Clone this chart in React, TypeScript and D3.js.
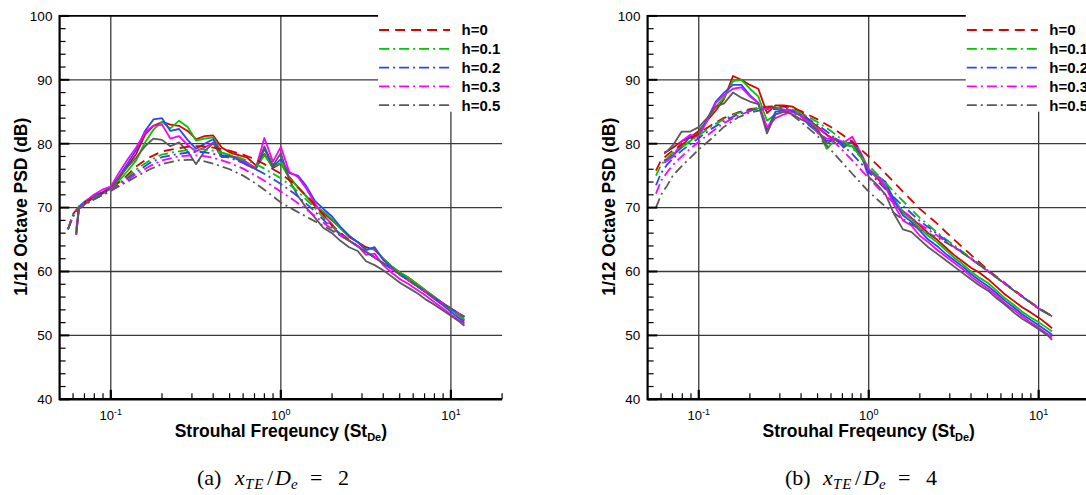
import React from 'react';
import * as d3 from 'd3';

const W = 1086;
const H = 495;

// ---------------- DATA ----------------
const seriesLabels = ['h=0', 'h=0.1', 'h=0.2', 'h=0.3', 'h=0.5'];
const seriesColors = ['#dc0000', '#00c800', '#2846ff', '#ff00ff', '#5a5a5a'];

// Strouhal numbers of the simulated (solid) spectra
const stSolid = [0.0626, 0.065, 0.0707, 0.0794, 0.0891, 0.1, 0.112, 0.126, 0.141, 0.159, 0.178, 0.2,
  0.224, 0.252, 0.283, 0.317, 0.356, 0.4, 0.449, 0.504, 0.566, 0.635, 0.713, 0.8, 0.898, 1.0, 1.12,
  1.26, 1.41, 1.59, 1.78, 2.0, 2.24, 2.52, 2.83, 3.17, 3.56, 4.0, 4.49, 5.04, 5.66, 6.35, 7.13, 8.0,
  8.98, 10.1, 11.3, 12.0];

// Strouhal numbers of the model (dashed) spectra
const stModel = [0.056, 0.06, 0.065, 0.07, 0.08, 0.09, 0.1, 0.12, 0.14, 0.17, 0.2, 0.25, 0.3, 0.35,
  0.4, 0.5, 0.6, 0.7, 0.8, 1.0, 1.2, 1.5, 2.0, 2.5, 3.0, 4.0, 5.0, 7.0, 10, 12];

// (a) x_TE/D_e = 2  -- solid
const aSolidH0 = [66.6, 70.0, 70.6, 71.6, 72.3, 73.2, 74.6, 76.6, 78.4, 81.4, 82.8, 83.4, 83.0, 82.8,
  82.0, 80.7, 81.2, 81.3, 79.4, 78.6, 78.2, 77.8, 76.6, 78.4, 76.2, 76.9, 74.8, 73.2, 71.8, 70.2, 69.2,
  68.0, 66.8, 65.4, 64.6, 63.8, 63.4, 62.0, 60.8, 59.8, 59.0, 58.0, 57.0, 56.0, 55.0, 54.0, 53.0, 52.3];
const aSolidH01 = [66.0, 70.0, 70.8, 71.7, 72.3, 73.0, 74.2, 75.8, 77.4, 80.2, 82.2, 83.4, 82.4, 83.6,
  82.6, 80.5, 80.8, 81.0, 78.6, 78.2, 77.6, 77.0, 76.2, 78.2, 76.4, 77.0, 74.6, 73.2, 71.8, 70.3, 69.4,
  68.2, 66.8, 65.6, 64.6, 63.4, 63.6, 62.0, 60.8, 59.8, 59.0, 58.0, 57.0, 56.0, 55.0, 54.0, 53.0, 52.5];
const aSolidH02 = [65.8, 70.2, 71.0, 71.9, 72.4, 73.2, 74.9, 77.0, 79.0, 82.0, 83.8, 84.0, 82.0, 82.3,
  80.6, 79.2, 80.0, 80.7, 78.2, 78.0, 77.8, 77.0, 76.0, 79.2, 76.4, 77.6, 75.4, 75.0, 73.4, 71.0, 69.8,
  68.6, 67.0, 65.6, 64.6, 63.4, 63.8, 61.8, 60.6, 59.4, 58.6, 57.7, 56.7, 55.7, 54.7, 53.6, 52.6, 52.0];
const aSolidH03 = [65.7, 70.0, 70.9, 72.0, 72.8, 73.3, 75.5, 77.6, 79.4, 81.8, 82.8, 83.0, 80.8, 81.2,
  79.8, 78.8, 79.4, 80.2, 77.9, 78.0, 77.6, 76.9, 76.2, 80.9, 77.2, 79.5, 75.6, 74.8, 73.0, 70.6, 68.8,
  67.4, 65.6, 64.8, 64.0, 62.6, 62.8, 61.0, 59.8, 58.8, 58.0, 57.1, 56.2, 55.2, 54.2, 53.2, 52.3, 51.7];
const aSolidH05 = [65.8, 69.8, 70.6, 71.6, 72.2, 73.0, 74.8, 76.4, 77.8, 79.6, 80.8, 80.6, 79.6, 80.2,
  78.8, 76.8, 78.8, 80.1, 77.9, 78.1, 77.4, 76.6, 76.0, 79.6, 76.6, 78.5, 74.4, 71.8, 70.0, 68.4, 66.8,
  66.0, 64.8, 63.8, 63.2, 61.6, 61.0, 60.2, 59.2, 58.2, 57.4, 56.6, 55.6, 54.8, 53.9, 53.0, 52.1, 51.5];

// (a) x_TE/D_e = 2  -- model
const aModelH0 = [66.6, 69.0, 70.2, 70.8, 71.6, 72.3, 73.0, 74.6, 76.4, 77.9, 78.8, 79.3, 79.6, 79.6,
  79.4, 78.9, 78.3, 77.6, 76.8, 75.3, 73.7, 71.2, 67.2, 65.0, 63.5, 61.3, 59.6, 56.9, 54.2, 52.9];
const aModelH01 = [66.6, 68.9, 70.1, 70.7, 71.5, 72.2, 72.9, 74.4, 75.9, 77.4, 78.3, 78.8, 79.1, 79.1,
  78.9, 78.3, 77.6, 76.9, 76.1, 74.6, 73.0, 70.6, 67.0, 64.9, 63.5, 61.3, 59.6, 56.9, 54.2, 52.9];
const aModelH02 = [66.6, 68.8, 70.0, 70.6, 71.4, 72.1, 72.8, 74.2, 75.5, 77.0, 77.9, 78.4, 78.7, 78.7,
  78.4, 77.8, 77.0, 76.1, 75.3, 73.7, 72.2, 70.0, 66.8, 64.9, 63.5, 61.3, 59.6, 56.9, 54.2, 52.9];
const aModelH03 = [66.6, 68.7, 69.9, 70.5, 71.3, 72.0, 72.7, 74.0, 75.2, 76.5, 77.4, 78.0, 78.2, 78.1,
  77.8, 77.0, 76.1, 75.1, 74.2, 72.5, 71.1, 69.2, 66.6, 64.9, 63.5, 61.3, 59.6, 56.9, 54.2, 52.9];
const aModelH05 = [66.6, 68.6, 69.8, 70.4, 71.3, 72.0, 72.6, 73.8, 74.8, 76.0, 76.8, 77.4, 77.5, 77.3,
  76.9, 76.0, 75.0, 73.9, 72.8, 70.8, 69.6, 68.2, 66.4, 64.9, 63.5, 61.3, 59.6, 56.9, 54.2, 52.9];

// (b) x_TE/D_e = 4  -- solid
const bSolidH0 = [78.6, 78.8, 79.4, 80.4, 81.0, 82.0, 83.6, 85.2, 87.0, 90.6, 90.0, 89.2, 88.6, 84.8,
  86.0, 86.0, 85.8, 85.0, 83.6, 82.6, 81.4, 80.6, 80.0, 79.6, 78.0, 76.0, 74.6, 73.2, 71.0, 69.4, 68.4,
  67.2, 66.0, 65.0, 63.8, 62.6, 61.6, 60.6, 59.8, 58.8, 57.6, 56.4, 55.4, 54.4, 53.6, 52.7, 51.7, 51.1];
const bSolidH01 = [77.2, 77.6, 78.2, 79.4, 80.4, 81.6, 83.8, 85.8, 87.2, 89.8, 90.0, 88.6, 87.4, 83.6,
  84.6, 85.0, 85.2, 84.6, 83.6, 82.2, 79.2, 80.6, 79.8, 79.6, 78.0, 75.8, 74.8, 73.6, 71.4, 69.2, 68.2,
  66.8, 65.6, 64.6, 63.4, 62.2, 61.2, 60.0, 59.0, 58.2, 57.0, 55.8, 54.8, 53.7, 52.8, 52.0, 51.1, 50.6];
const bSolidH02 = [77.4, 77.6, 78.2, 79.6, 81.1, 81.3, 83.8, 86.6, 88.0, 89.2, 89.2, 87.6, 86.4, 82.2,
  85.0, 85.2, 85.0, 84.4, 82.8, 81.8, 80.4, 80.8, 80.0, 80.2, 78.2, 75.8, 75.0, 74.0, 71.0, 68.8, 67.8,
  66.4, 65.0, 64.0, 62.8, 61.8, 60.8, 59.6, 58.6, 57.7, 56.6, 55.4, 54.4, 53.3, 52.4, 51.5, 50.6, 50.1];
const bSolidH03 = [77.0, 77.3, 78.0, 80.4, 81.4, 81.0, 83.6, 86.4, 87.6, 88.6, 88.8, 87.4, 86.4, 82.6,
  84.0, 84.6, 85.0, 84.4, 83.4, 81.6, 80.8, 80.8, 80.2, 81.1, 78.6, 76.0, 75.0, 73.2, 70.4, 68.0, 67.2,
  65.6, 64.6, 63.4, 62.4, 61.4, 60.4, 59.2, 58.2, 57.3, 56.2, 55.0, 54.0, 53.0, 52.0, 51.1, 50.2, 49.7];
const bSolidH05 = [78.4, 78.8, 79.8, 81.9, 81.9, 82.6, 84.0, 85.8, 86.3, 88.0, 87.2, 86.6, 86.2, 81.6,
  84.6, 85.0, 84.6, 83.8, 83.2, 82.0, 80.0, 80.8, 79.4, 80.4, 78.4, 74.8, 73.6, 72.0, 69.0, 66.6, 66.2,
  65.0, 63.8, 62.8, 61.8, 60.8, 59.8, 58.8, 57.8, 57.0, 55.8, 54.8, 53.6, 52.6, 51.8, 50.9, 50.0, 49.3];

// (b) x_TE/D_e = 4  -- model
const bModelH0 = [75.8, 77.4, 78.2, 78.9, 79.9, 80.8, 81.6, 83.0, 84.0, 84.9, 85.4, 85.8, 85.9, 85.6,
  85.1, 83.8, 82.6, 81.4, 80.3, 78.0, 75.9, 73.2, 69.8, 67.6, 65.6, 62.6, 60.3, 57.3, 54.3, 53.0];
const bModelH01 = [75.0, 76.7, 77.7, 78.5, 79.6, 80.5, 81.3, 82.8, 83.8, 84.8, 85.3, 85.7, 85.7, 85.4,
  84.8, 83.4, 82.0, 80.6, 79.3, 76.6, 74.4, 71.7, 68.4, 66.2, 64.6, 62.1, 60.2, 57.2, 54.2, 53.0];
const bModelH02 = [73.5, 75.4, 76.7, 77.6, 79.0, 80.0, 80.9, 82.4, 83.5, 84.6, 85.2, 85.6, 85.6, 85.2,
  84.5, 83.0, 81.4, 79.8, 78.4, 75.6, 73.4, 70.9, 67.9, 66.0, 64.4, 62.0, 60.1, 57.2, 54.2, 53.0];
const bModelH03 = [72.2, 74.2, 75.5, 76.6, 78.1, 79.3, 80.3, 81.9, 83.2, 84.4, 85.1, 85.5, 85.5, 85.0,
  84.2, 82.5, 80.8, 79.0, 77.4, 74.6, 72.4, 70.0, 67.4, 65.7, 64.3, 62.0, 60.1, 57.2, 54.2, 53.0];
const bModelH05 = [70.0, 72.0, 73.4, 74.9, 76.6, 77.9, 79.1, 80.9, 82.6, 84.1, 84.9, 85.4, 85.4, 84.6,
  83.4, 81.2, 79.0, 77.0, 75.3, 72.5, 70.6, 68.6, 66.6, 65.4, 64.2, 62.0, 60.1, 57.2, 54.2, 53.0];

const yTickValues = [40, 50, 60, 70, 80, 90, 100];
const xMajorTicks = [0.1, 1, 10];
const xTickExponents = ['-1', '0', '1'];

// ---------------- LAYOUT ----------------
const FONT = "'Liberation Sans', Arial, Helvetica, sans-serif";
const SERIF = "'Liberation Serif', 'DejaVu Serif', 'Times New Roman', serif";
const PLOT_TOP = 15.9;
const PLOT_BOTTOM = 399.3;
const modelDash = ['10,6', '10,4,2,4', '10,4,2,4', '10,4,2,4', '10,4,2,4'];

const panels = [
  {
    key: 'a', left: 59.6, right: 502.1, label: 'a', value: '2', capX: 278,
    solids: [aSolidH0, aSolidH01, aSolidH02, aSolidH03, aSolidH05],
    models: [aModelH0, aModelH01, aModelH02, aModelH03, aModelH05],
  },
  {
    key: 'b', left: 647.6, right: 1089.8, label: 'b', value: '4', capX: 866,
    solids: [bSolidH0, bSolidH01, bSolidH02, bSolidH03, bSolidH05],
    models: [bModelH0, bModelH01, bModelH02, bModelH03, bModelH05],
  },
];

function minorTicks(): number[] {
  const out: number[] = [];
  [0.01, 0.1, 1, 10].forEach((dec) => {
    for (let k = 2; k <= 9; k++) {
      const v = dec * k;
      if (v >= 0.05 && v <= 20.0001) out.push(v);
    }
  });
  return out;
}

function Caption({ cx, label, value }: { cx: number; label: string; value: string }) {
  const base = 485;
  const fs = 22;
  const sub = 15;
  return (
    <g fontFamily={SERIF} fill="#000">
      <text x={cx - 81} y={base} fontSize={fs}>({label})</text>
      <text x={cx - 43} y={base} fontSize={fs} fontStyle="italic">x</text>
      <text x={cx - 33} y={base + 4} fontSize={sub} fontStyle="italic" letterSpacing={1}>TE</text>
      <text x={cx - 11} y={base} fontSize={fs}>/</text>
      <text x={cx - 3} y={base} fontSize={fs} fontStyle="italic">D</text>
      <text x={cx + 13} y={base + 4} fontSize={sub} fontStyle="italic">e</text>
      <text x={cx + 32} y={base} fontSize={fs}>=</text>
      <text x={cx + 60} y={base} fontSize={fs}>{value}</text>
    </g>
  );
}

function Panel({ p }: { p: typeof panels[number] }) {
  const x = d3.scaleLog().domain([0.05, 20]).range([p.left, p.right]);
  const y = d3.scaleLinear().domain([40, 100]).range([PLOT_BOTTOM, PLOT_TOP]);
  const line = d3.line<[number, number]>().x((d) => x(d[0])).y((d) => y(d[1]));
  const yMinor = y.ticks(30).filter((v) => v % 10 !== 0);
  const xMinor = minorTicks();
  const legX0 = p.right - 123;
  const legX1 = p.right - 52;
  const legText = p.right - 40.5;
  const legY0 = 30;
  const legStep = 18.8;
  const gridColor = '#3a3a3a';

  return (
    <g>
      {/* horizontal gridlines */}
      {yTickValues.filter((v) => v > 40 && v < 100).map((v) => (
        <line key={'hg' + v} x1={p.left} x2={p.right} y1={y(v)} y2={y(v)} stroke={gridColor} strokeWidth={1.3} />
      ))}
      {/* vertical gridlines */}
      {xMajorTicks.map((v) => (
        <line key={'vg' + v} x1={x(v)} x2={x(v)} y1={y(40)} y2={y(100)} stroke={gridColor} strokeWidth={1.3} />
      ))}
      {/* top border */}
      <line x1={p.left} x2={p.right} y1={y(100)} y2={y(100)} stroke="#000" strokeWidth={1.6} />

      {/* solid spectra */}
      {p.solids.map((vals, i) => (
        <path key={'s' + i} d={line(stSolid.map((s, j) => [s, vals[j]] as [number, number])) || ''}
          fill="none" stroke={seriesColors[i]} strokeWidth={1.8} strokeLinejoin="round" />
      ))}
      {/* model spectra */}
      {p.models.map((vals, i) => (
        <path key={'m' + i} d={line(stModel.map((s, j) => [s, vals[j]] as [number, number])) || ''}
          fill="none" stroke={seriesColors[i]} strokeWidth={1.8} strokeDasharray={modelDash[i]} />
      ))}

      {/* axes */}
      <line x1={p.left} x2={p.left} y1={y(40) + 1} y2={y(100) - 0.8} stroke="#000" strokeWidth={2.2} />
      <line x1={p.left} x2={p.right} y1={y(40)} y2={y(40)} stroke="#000" strokeWidth={2.4} />
      {yTickValues.map((v) => (
        <line key={'yt' + v} x1={p.left} x2={p.left + 9.7} y1={y(v)} y2={y(v)} stroke="#000" strokeWidth={2} />
      ))}
      {yMinor.map((v) => (
        <line key={'ym' + v} x1={p.left} x2={p.left + 6} y1={y(v)} y2={y(v)} stroke="#000" strokeWidth={1.2} />
      ))}
      {xMajorTicks.map((v) => (
        <line key={'xt' + v} x1={x(v)} x2={x(v)} y1={y(40)} y2={y(40) - 9.5} stroke="#000" strokeWidth={2.2} />
      ))}
      {xMinor.map((v) => (
        <line key={'xm' + v} x1={x(v)} x2={x(v)} y1={y(40)} y2={y(40) - 6} stroke="#000" strokeWidth={1.2} />
      ))}

      {/* legend */}
      <rect x={legX0 - 1} y={y(100) - 3} width={p.right - legX0 + 6} height={111.7 - y(100) + 3} fill="#fff" />
      {seriesLabels.map((lab, i) => (
        <g key={'lg' + i}>
          <line x1={legX0} x2={legX1} y1={legY0 + i * legStep} y2={legY0 + i * legStep}
            stroke={seriesColors[i]} strokeWidth={1.8} strokeDasharray={modelDash[i]} />
          <text x={legText} y={legY0 + i * legStep} dy="0.36em" fontFamily={FONT} fontWeight="bold" fontSize={15}>
            {lab}
          </text>
        </g>
      ))}

      {/* tick labels */}
      {yTickValues.map((v) => (
        <text key={'yl' + v} x={p.left - 7.2} y={y(v)} dy="0.36em" textAnchor="end" fontFamily={FONT} fontSize={13.5}>
          {v}
        </text>
      ))}
      {xMajorTicks.map((v, i) => (
        <text key={'xl' + v} x={x(v)} y={419.5} textAnchor="middle" fontFamily={FONT} fontSize={13}>
          10<tspan dy={-5} fontSize={9}>{xTickExponents[i]}</tspan>
        </text>
      ))}

      {/* axis titles */}
      <text x={x(1)} y={436.5} textAnchor="middle" fontFamily={FONT} fontWeight="bold" fontSize={17.5}>
        Strouhal Freqeuncy (St<tspan dy={4} fontSize={11}>De</tspan><tspan dy={-4}>)</tspan>
      </text>
      <text transform={`translate(${p.left - 39},${206.7}) rotate(-90)`} textAnchor="middle" dy="0.36em"
        fontFamily={FONT} fontWeight="bold" fontSize={17.5}>
        1/12 Octave PSD (dB)
      </text>

      <Caption cx={p.capX} label={p.label} value={p.value} />
    </g>
  );
}

export default function App() {
  return (
    <svg width={W} height={H} viewBox={`0 0 ${W} ${H}`}
      style={{ position: 'absolute', left: 0, top: 0, background: '#fff', display: 'block' }}>
      <rect x={0} y={0} width={W} height={H} fill="#fff" />
      {panels.map((p) => (
        <Panel key={p.key} p={p} />
      ))}
    </svg>
  );
}
